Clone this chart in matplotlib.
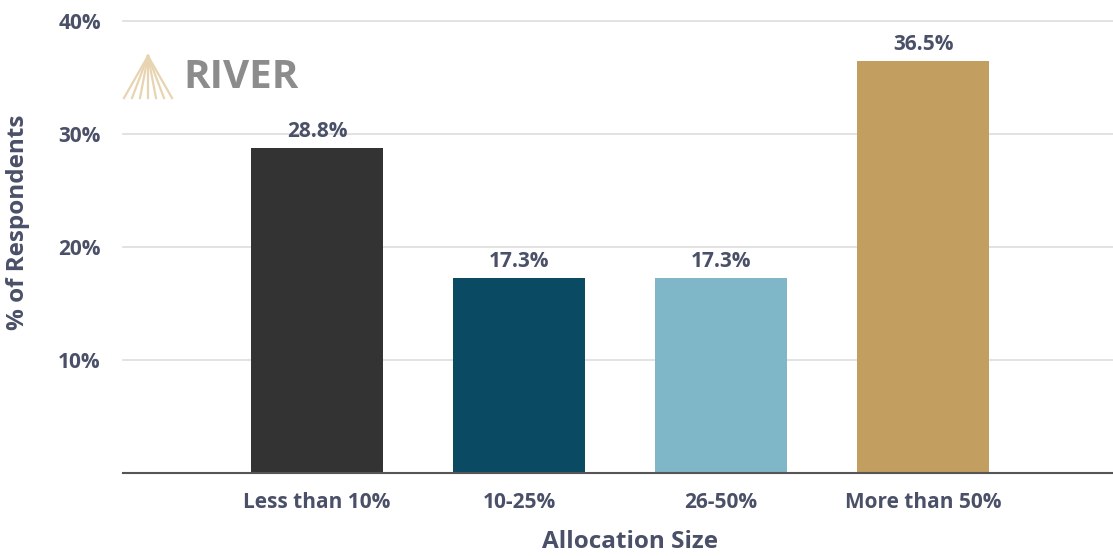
import matplotlib.pyplot as plt

categories = ['Less than 10%', '10-25%', '26-50%', 'More than 50%']
values = [28.8, 17.3, 17.3, 36.5]
colors = ['#333333', '#0b4a63', '#7fb7c8', '#c29f60']
yticks = [10, 20, 30, 40]

text_color = '#4a5068'
plt.rcParams['font.family'] = ['Open Sans', 'DejaVu Sans']
plt.rcParams['font.weight'] = 'bold'

W, H = 1113, 556
fig = plt.figure(figsize=(W / 100, H / 100), dpi=100)
ax = fig.add_axes([123 / W, 83 / H, 990 / W, (473 - 21) / H])

x = list(range(len(categories)))
ax.bar(x, values, width=0.65, color=colors, zorder=3)

for xi, v in zip(x, values):
    ax.text(xi, v + 0.5, '%.1f%%' % v, ha='center', va='bottom',
            fontsize=15, fontweight='bold', color=text_color)

ax.set_xlim(-0.96, 3.94)
ax.set_ylim(0, 40)
ax.set_yticks(yticks)
ax.set_yticklabels(['%d%%' % t for t in yticks])
ax.set_xticks(x)
ax.set_xticklabels(categories)
ax.tick_params(axis='both', length=0, labelsize=15, colors=text_color)
ax.tick_params(axis='x', pad=14)
ax.tick_params(axis='y', pad=16)
for lbl in ax.get_xticklabels() + ax.get_yticklabels():
    lbl.set_fontweight('bold')

for t in yticks:
    ax.axhline(t, color='#dddddd', linewidth=1.2, zorder=1, clip_on=False)

for side in ['top', 'right', 'left']:
    ax.spines[side].set_visible(False)
ax.spines['bottom'].set_color('#555555')
ax.spines['bottom'].set_linewidth(1.5)
ax.spines['bottom'].set_zorder(4)

ax.set_xlabel('Allocation Size', fontsize=17.5, fontweight='bold', color=text_color)
ax.set_ylabel('% of Respondents', fontsize=17.5, fontweight='bold', color=text_color)
ax.xaxis.set_label_coords((630 - 123) / 990, -(530 - 473) / 452)
ax.yaxis.set_label_coords(-(123 - 30) / 990, (473 - 222) / 452)

# RIVER logo
apex = (148 / W, 1 - 56 / H)
for i in range(7):
    bx = (124 + i * 8) / W
    fig.add_artist(plt.Line2D([apex[0], bx], [apex[1], 1 - 98 / H],
                              color='#e8d4b0', linewidth=1.6, transform=fig.transFigure))
fig.text(183 / W, 1 - 77 / H, 'RIVER', fontsize=29, fontweight='bold',
         color='#8c8c8c', va='center', ha='left')

plt.savefig('out.png', dpi=100)
plt.close()
